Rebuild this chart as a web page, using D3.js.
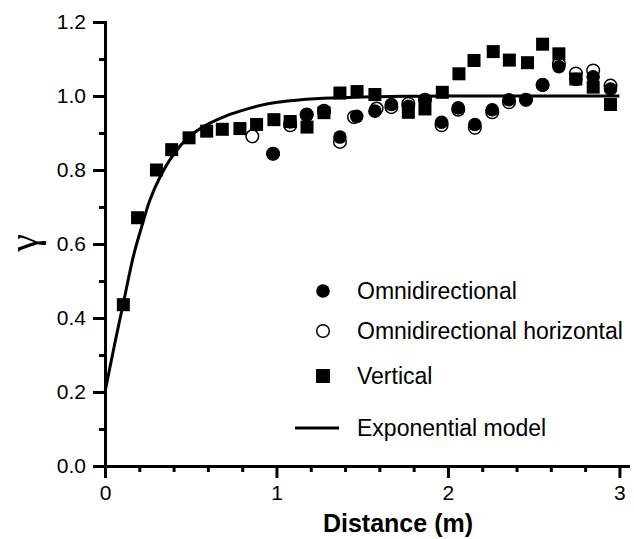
<!DOCTYPE html>
<html>
<head>
<meta charset="utf-8">
<script src="https://cdn.jsdelivr.net/npm/d3@7"></script>
<style>
  body { margin: 0; background: white; }
  text { font-family: "Liberation Sans", Arial, sans-serif; }
</style>
</head>
<body>
<div id="chart"></div>
<script>
// vertical variogram (squares)
const vertDist = [0.107, 0.19, 0.30, 0.389, 0.49, 0.593, 0.684, 0.787, 0.884, 0.985, 1.08, 1.178, 1.277, 1.37, 1.47, 1.574, 1.769, 1.866, 1.967, 2.064, 2.152, 2.264, 2.358, 2.464, 2.552, 2.647, 2.746, 2.847, 2.948]
const vertGamma = [0.436, 0.671, 0.80, 0.855, 0.887, 0.905, 0.91, 0.912, 0.923, 0.936, 0.931, 0.916, 0.955, 1.008, 1.012, 1.004, 0.956, 0.965, 1.010, 1.060, 1.096, 1.120, 1.097, 1.090, 1.140, 1.114, 1.046, 1.024, 0.977]

// omnidirectional (filled circles)
const omniDist = [0.98, 1.08, 1.176, 1.277, 1.37, 1.468, 1.574, 1.67, 1.769, 1.866, 1.963, 2.06, 2.157, 2.258, 2.356, 2.455, 2.552, 2.647, 2.746, 2.847, 2.948]
const omniGamma = [0.844, 0.93, 0.948, 0.957, 0.889, 0.945, 0.959, 0.977, 0.972, 0.990, 0.929, 0.968, 0.923, 0.963, 0.990, 0.990, 1.030, 1.079, 1.045, 1.052, 1.019]

// omnidirectional horizontal (open circles)
const horizDist = [0.859, 0.98, 1.08, 1.176, 1.277, 1.37, 1.452, 1.584, 1.67, 1.769, 1.866, 1.963, 2.06, 2.157, 2.258, 2.356, 2.455, 2.552, 2.647, 2.746, 2.847, 2.948]
const horizGamma = [0.891, 0.844, 0.921, 0.95, 0.96, 0.876, 0.943, 0.966, 0.970, 0.979, 0.99, 0.921, 0.963, 0.914, 0.956, 0.983, 0.99, 1.03, 1.087, 1.061, 1.069, 1.028]

// exponential model
const modelDist = [0, 0.058, 0.107, 0.165, 0.214, 0.262, 0.321, 0.389, 0.49, 0.593, 0.7, 0.787, 0.9, 0.985, 1.1, 1.25, 1.5, 1.75, 2.0, 2.5, 3.0]
const modelGamma = [0.20, 0.333, 0.44, 0.566, 0.647, 0.719, 0.781, 0.835, 0.89, 0.922, 0.945, 0.959, 0.974, 0.982, 0.988, 0.993, 0.997, 0.999, 1.0, 1.0, 1.0]

const xMajor = [0, 1, 2, 3]
const xMinor = [0.2, 0.4, 0.6, 0.8, 1.2, 1.4, 1.6, 1.8, 2.2, 2.4, 2.6, 2.8]
const yMajor = [0, 0.2, 0.4, 0.6, 0.8, 1.0, 1.2]
const yMinor = [0.1, 0.3, 0.5, 0.7, 0.9, 1.1]

const legendNames = ["Omnidirectional", "Omnidirectional horizontal", "Vertical", "Exponential model"]

const width = 634
const height = 539

const svg = d3.select("#chart")
    .append("svg")
    .attr("width", width)
    .attr("height", height)

const x = d3.scaleLinear().domain([0, 3.05]).range([105, 628])
const y = d3.scaleLinear().domain([0, 1.2]).range([466, 22])

const zip = (a, b) => a.map((d, i) => ({ d: d, g: b[i] }))

// axes
function styleAxis(g) {
    g.selectAll("path, line").attr("stroke", "#000").attr("stroke-width", 3)
    g.select(".domain").attr("stroke-linecap", "square")
    g.selectAll("text").attr("fill", "#000").style("font-size", "21px")
        .style("font-family", "'Liberation Sans', Arial, sans-serif")
}

svg.append("g")
    .attr("transform", "translate(0,466)")
    .call(d3.axisBottom(x).tickValues(xMinor).tickSize(6).tickSizeOuter(0).tickFormat(""))
    .call(styleAxis)

svg.append("g")
    .attr("transform", "translate(105,0)")
    .call(d3.axisLeft(y).tickValues(yMinor).tickSize(6).tickSizeOuter(0).tickFormat(""))
    .call(styleAxis)

svg.append("g")
    .attr("transform", "translate(0,466)")
    .call(d3.axisBottom(x).tickValues(xMajor).tickSize(12).tickSizeOuter(0).tickPadding(7).tickFormat(d3.format("d")))
    .call(styleAxis)

svg.append("g")
    .attr("transform", "translate(105,0)")
    .call(d3.axisLeft(y).tickValues(yMajor).tickSize(12).tickSizeOuter(0).tickPadding(7).tickFormat(d3.format(".1f")))
    .call(styleAxis)

// axis titles
svg.append("text")
    .text("Distance (m)")
    .attr("x", 398)
    .attr("y", 532)
    .attr("text-anchor", "middle")
    .style("font-size", "25px")
    .style("font-weight", "bold")

svg.append("text")
    .text("γ")
    .attr("transform", "translate(37,243) rotate(-90)")
    .attr("text-anchor", "middle")
    .style("font-family", "'Liberation Serif', 'DejaVu Serif', serif")
    .style("font-size", "40px")

// open circles first, then squares, then filled circles
svg.append("g")
    .selectAll("circle")
    .data(zip(horizDist, horizGamma))
    .join("circle")
    .attr("cx", d => x(d.d))
    .attr("cy", d => y(d.g))
    .attr("r", 6.3)
    .attr("fill", "white")
    .attr("stroke", "black")
    .attr("stroke-width", 1.5)

svg.append("g")
    .selectAll("rect")
    .data(zip(vertDist, vertGamma))
    .join("rect")
    .attr("x", d => x(d.d) - 6.5)
    .attr("y", d => y(d.g) - 6.5)
    .attr("width", 13)
    .attr("height", 13)
    .attr("fill", "black")

svg.append("g")
    .selectAll("circle")
    .data(zip(omniDist, omniGamma))
    .join("circle")
    .attr("cx", d => x(d.d))
    .attr("cy", d => y(d.g))
    .attr("r", 6.8)
    .attr("fill", "black")

// model curve
svg.append("path")
    .datum(zip(modelDist, modelGamma))
    .attr("fill", "none")
    .attr("stroke", "black")
    .attr("stroke-width", 3)
    .attr("d", d3.line().x(d => x(d.d)).y(d => y(d.g)).curve(d3.curveCatmullRom.alpha(0.5)))

// legend
const legendY = [291, 331, 376, 428]
const legend = svg.append("g")

legend.append("circle").attr("cx", 323).attr("cy", legendY[0]).attr("r", 6.8).attr("fill", "black")
legend.append("circle").attr("cx", 323).attr("cy", legendY[1]).attr("r", 6.3)
    .attr("fill", "white").attr("stroke", "black").attr("stroke-width", 1.5)
legend.append("rect").attr("x", 316).attr("y", legendY[2] - 7).attr("width", 14).attr("height", 14).attr("fill", "black")
legend.append("line").attr("x1", 295).attr("x2", 339).attr("y1", legendY[3]).attr("y2", legendY[3])
    .attr("stroke", "black").attr("stroke-width", 3)

legend.selectAll("text")
    .data(legendNames)
    .join("text")
    .text(d => d)
    .attr("x", 357)
    .attr("y", (d, i) => legendY[i])
    .attr("dy", "0.35em")
    .style("font-size", "23px")
</script>
</body>
</html>
